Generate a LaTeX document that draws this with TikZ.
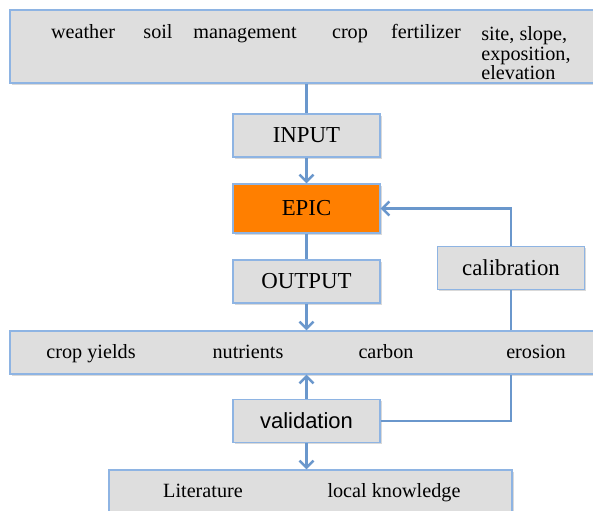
\documentclass[tikz,border=0pt]{standalone}
\usepackage{fontspec}
\setmainfont{Liberation Serif}
\setsansfont{Liberation Sans}
\usetikzlibrary{arrows.meta,shadows}
\definecolor{boxline}{HTML}{8EB4E3}
\definecolor{boxfill}{HTML}{DEDEDE}
\definecolor{flowblue}{HTML}{6A97CC}
\definecolor{epicorange}{HTML}{FF7F00}
\begin{document}
\begin{tikzpicture}[
    x=0.02cm,y=-0.02cm,
    every node/.style={font=\fontsize{11.5}{11.2}\selectfont, inner sep=0pt},
    item/.style={anchor=base},
    box/.style={draw=boxline, line width=0.7pt, fill=boxfill,
        drop shadow={shadow xshift=0.9pt, shadow yshift=-0.9pt, opacity=0.3}},
    stage/.style={box, minimum width=2.94cm, minimum height=0.86cm, font=\fontsize{13}{15}\selectfont},
    band/.style={box, minimum width=11.8cm},
    flow/.style={draw=flowblue, line width=1.4pt},
    tip/.style={flow, -{Straight Barb[length=4pt,width=8pt,line width=1.4pt]}}
]
    \clip (0,0) rectangle (593,511);
    \useasboundingbox (0,0) rectangle (593,511);

    % input data
    \node[band, minimum height=1.46cm] (data) at (305,46.5) {};
    \foreach \x/\lab/\nm in {83/weather/weather,158/soil/soil,245/management/mgmt,350/crop/crop,426/fertilizer/fert} {
        \node[item] (\nm) at (\x,38) {\lab};
    }
    \node[align=left, anchor=north west] (site) at (481,26) {site, slope,\\exposition,\\elevation};

    % model chain
    \node[stage] (input) at (306.5,135.5) {INPUT};
    \node[stage, fill=epicorange, minimum height=0.98cm] (epic) at (306.5,208.5) {EPIC};
    \node[stage] (output) at (306.5,281.5) {OUTPUT};
    \node[stage] (calib) at (511,268) {calibration};

    % outputs
    \node[band, minimum height=0.86cm] (results) at (305,352.5) {};
    \foreach \x/\lab/\nm in {91/crop yields/yields,248/nutrients/nutr,386/carbon/carbon,536/erosion/erosion} {
        \node[item] (\nm) at (\x,358) {\lab};
    }

    \node[stage, font=\sffamily\fontsize{12.5}{15}\selectfont] (valid) at (306.5,421) {validation};

    \node[box, minimum width=8.06cm, minimum height=1.0cm] (refs) at (310.5,495) {};
    \node[item] (lit) at (203,497) {Literature};
    \node[item] (local) at (394,497) {local knowledge};

    \draw[flow] (data.south -| input.north) -- (input.north);
    \draw[tip] (input.south) -- (epic.north);
    \draw[flow] (epic.south) -- (output.north);
    \draw[tip] (output.south) -- (output.south |- results.north);
    \draw[tip] (calib.north) |- (epic.east);
    \draw[flow] (results.north -| calib.south) -- (calib.south);
    \draw[tip] (valid.north) -- (valid.north |- results.south);
    \draw[flow] (valid.east) -| (results.south -| calib.south);
    \draw[tip] (valid.south) -- (valid.south |- refs.north);
\end{tikzpicture}
\end{document}
